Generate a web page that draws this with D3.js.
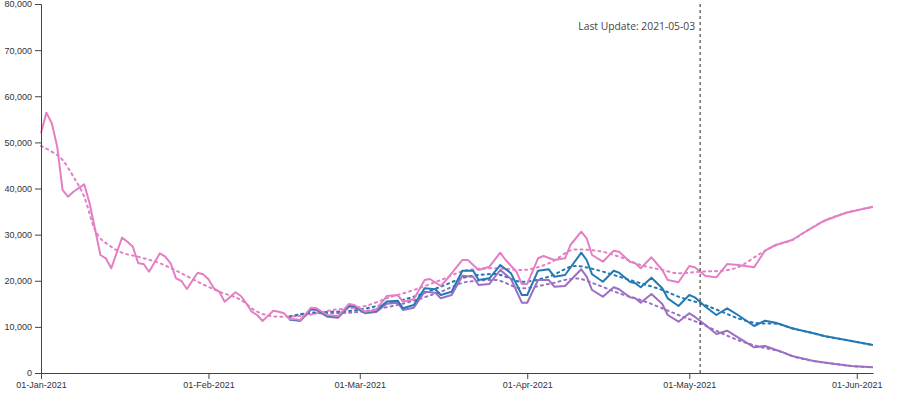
<!DOCTYPE html>
<meta charset="utf-8">
<script src="https://d3js.org/d3.v7.min.js"></script>
<style>
  body { margin: 0; background: #fff; }
  .axis text { font-family: "Liberation Sans", Arial, sans-serif; font-size: 9px; fill: #333; }
  .axis path, .axis line { stroke: #444; }
</style>
<div class="chart"></div>
<script>
  // day offsets from 01-Jan-2021 and values
  const pinkDays = [0,1,2,3,4,5,6,8,9,11,12,13,15,16,17,18,19,20,22,23,24,25,26,27,29,30,31,32,33,34,36,37,38,39,40,41,43,44,45,46,47,48,50,51,53,55,57,58,60,62,64,66,67,69,71,72,74,75,78,79,81,83,85,86,88,89,90,92,93,95,97,98,100,101,102,104,106,107,109,110,111,113,115,116,118,120,121,123,125,127,129,132,134,136,139,142,145,149,154];
  const pinkVals = [51970,56440,54130,49060,39670,38220,39300,40900,36800,25580,24860,22700,29340,28470,27380,23780,23630,21960,25950,25210,23780,20530,19950,18210,21750,21400,20310,18360,17630,15460,17500,16690,15110,13290,12570,11270,13510,13290,12940,11640,11640,11490,14160,14030,12570,12360,14960,14740,13290,13660,16690,16910,15460,15980,20160,20380,18860,20160,24500,24500,22330,23050,26080,24500,21960,19300,19300,24870,25370,24500,24870,27750,30630,29200,25580,24130,26520,26300,24130,23780,22700,25080,22330,20160,19660,23200,22920,21030,20750,23630,23410,22920,26520,27750,28830,31000,33020,34750,36050];

  const blueDays = [46,48,50,51,53,55,57,58,60,62,64,66,67,69,71,73,74,76,78,80,81,83,85,87,89,90,92,94,95,97,100,101,102,104,106,107,109,110,111,113,115,116,118,120,121,123,125,127,129,132,134,136,139,143,145,149,154];
  const blueVals = [11600,11400,13950,13850,12400,12200,14700,14550,13150,13450,15500,15680,14030,14740,18360,18150,16910,17630,22180,22180,20160,20530,23410,21610,16910,16910,22180,22480,20880,21250,26080,24500,21400,19790,22180,21750,19790,19450,18580,20660,18360,16190,14520,16910,16410,14370,12570,14030,12570,10190,11340,10900,9690,8610,8020,7150,6070];

  const purpleDays = [46,48,50,51,53,55,57,58,60,62,64,66,67,69,71,73,74,76,78,80,81,83,85,87,89,90,92,94,95,97,100,101,102,104,106,107,109,110,111,113,115,116,118,120,121,123,125,127,129,132,134,137,139,143,147,150,154];
  const purpleVals = [11550,11300,13750,13650,12200,12000,14400,14300,12950,13200,15000,15240,13660,14160,17630,17410,16190,16910,21100,20880,19080,19300,22330,20380,15240,15240,20160,20160,18710,18860,22480,20880,17990,16540,18580,18150,16410,16190,15240,17130,14960,12570,11120,12940,12210,10410,8460,9170,7740,5570,5850,4620,3690,2600,1950,1520,1240];

  // trend lines
  const pinkTrendDays = [0,2,4,6,8,10,13,15,18,22,26,29,33,37,40,44,48,54,60,64,69,74,79,84,89,94,99,103,107,111,115,118,122,126,129,133,136,139,142,145,149,154];
  const pinkTrendVals = [49220,47980,46180,42560,38220,31000,27380,26080,25210,23780,21610,19790,17630,15830,13290,12210,12360,13660,14520,16190,17990,20160,22330,22700,22330,23780,26800,26500,25210,23410,22330,21610,21960,22180,22920,25800,27700,28800,31000,33000,34700,36000];
  const blueTrendDays = [46,50,57,63,69,74,79,84,89,94,99,103,107,111,115,118,122,126,129,133,136,139,143,145,149,154];
  const blueTrendVals = [12250,13070,13440,14740,16540,18710,20880,21460,19790,20880,23200,22300,20880,19450,17990,16540,15110,13290,11860,10770,10700,9700,8600,8000,7150,6050];
  const purpleTrendDays = [46,50,57,63,69,74,79,84,89,94,99,103,107,111,115,118,122,126,129,133,137,139,143,147,150,154];
  const purpleTrendVals = [12150,12900,13070,14030,15680,17630,19790,20160,18360,19300,20500,19100,17280,15830,14030,12570,10770,8610,7150,5700,4600,3700,2600,1950,1500,1230];

  const yTicks = [0,10000,20000,30000,40000,50000,60000,70000,80000];
  const lastUpdate = "2021-05-03";

  const width = 900, height = 395;
  const margin = {top: 4, right: 28, bottom: 22, left: 41};
  const start = new Date(2021, 0, 1);

  const svg = d3.select('.chart')
                .append('svg')
                .attr('width', width)
                .attr('height', height);

  const x = d3.scaleTime()
              .domain([start, d3.timeDay.offset(start, 154)])
              .range([margin.left, width - margin.right + 1]);
  const y = d3.scaleLinear()
              .domain([0, 80000])
              .range([height - margin.bottom, margin.top]);

  function toPoints(days, vals) {
    return days.map(function(d, i) { return {date: d3.timeDay.offset(start, d), value: vals[i]}; });
  }

  const solidLine = d3.line()
                      .x(function(d) { return x(d.date); })
                      .y(function(d) { return y(d.value); });
  const trendLine = d3.line()
                      .curve(d3.curveMonotoneX)
                      .x(function(d) { return x(d.date); })
                      .y(function(d) { return y(d.value); });

  const series = [
    {color: "#9b6fc4", data: toPoints(purpleDays, purpleVals), trend: toPoints(purpleTrendDays, purpleTrendVals)},
    {color: "#2479b5", data: toPoints(blueDays, blueVals), trend: toPoints(blueTrendDays, blueTrendVals)},
    {color: "#e37fc4", data: toPoints(pinkDays, pinkVals), trend: toPoints(pinkTrendDays, pinkTrendVals)}
  ];

  // dotted trends first, solid lines on top
  series.forEach(function(s) {
    svg.append("path")
       .attr("d", trendLine(s.trend))
       .attr("fill", "none")
       .attr("stroke", s.color)
       .attr("stroke-width", 2)
       .attr("stroke-dasharray", "2,4")
       .attr("stroke-linecap", "round");
  });
  series.forEach(function(s) {
    svg.append("path")
       .attr("d", solidLine(s.data))
       .attr("fill", "none")
       .attr("stroke", s.color)
       .attr("stroke-width", 2)
       .attr("stroke-linejoin", "round");
  });

  // axes
  svg.append("g")
     .attr("class", "axis")
     .attr("transform", "translate(0," + y(0) + ")")
     .call(d3.axisBottom(x)
             .ticks(d3.timeMonth.every(1))
             .tickFormat(d3.timeFormat("%d-%b-%Y"))
             .tickSizeOuter(0));
  svg.append("g")
     .attr("class", "axis")
     .attr("transform", "translate(" + margin.left + ",0)")
     .call(d3.axisLeft(y)
             .tickValues(yTicks)
             .tickFormat(d3.format(","))
             .tickSizeOuter(6));

  // last update marker
  const lu = d3.timeParse("%Y-%m-%d")(lastUpdate);
  svg.append("line")
     .attr("x1", x(lu)).attr("x2", x(lu))
     .attr("y1", y(80000)).attr("y2", y(0))
     .attr("stroke", "#222")
     .attr("stroke-width", 1)
     .attr("stroke-dasharray", "3,3");
  svg.append("text")
     .attr("x", x(lu) - 5)
     .attr("y", 30)
     .attr("text-anchor", "end")
     .style("font-family", "'Open Sans', sans-serif")
     .style("font-size", "10.3px")
     .style("fill", "#444")
     .text("Last Update: " + lastUpdate);
</script>
